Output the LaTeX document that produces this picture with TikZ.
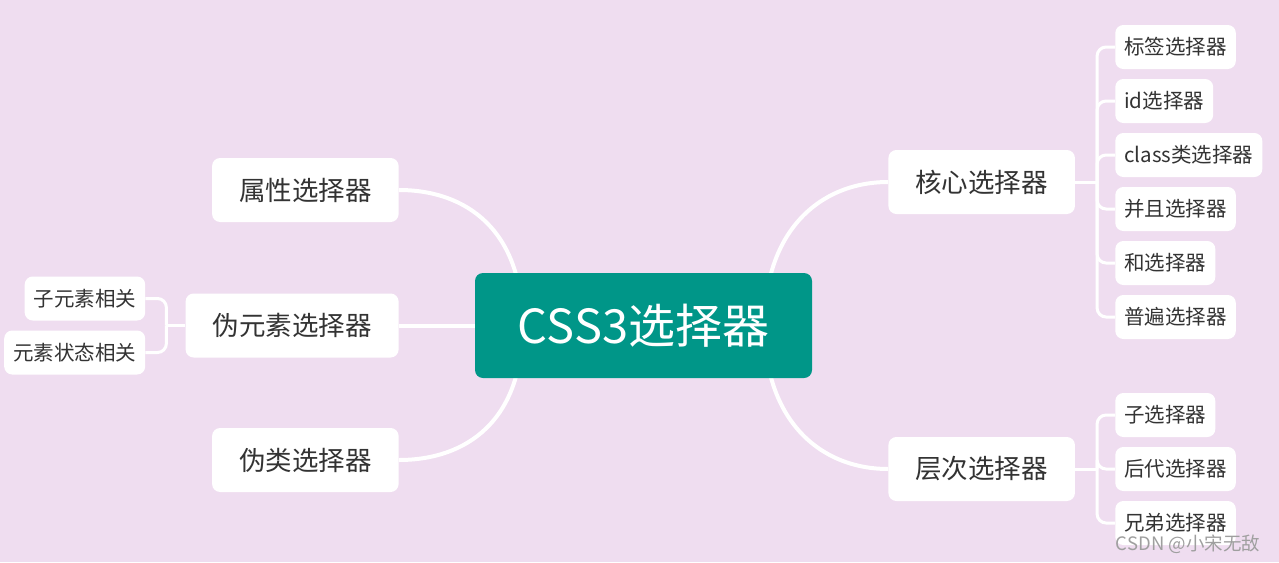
\documentclass[tikz,border=0pt]{standalone}
\usepackage{fontspec}
\setmainfont{Noto Sans CJK SC}
\usetikzlibrary{positioning,calc,backgrounds}
\definecolor{bgpurple}{HTML}{EFDDF0}
\definecolor{rootteal}{HTML}{009688}
\definecolor{textgray}{HTML}{333333}

\begin{document}
\begin{tikzpicture}[x=1pt, y=1pt,
    topic/.style={fill=white, rounded corners=8pt, text=textgray, font=\fontsize{26.5}{30}\selectfont, minimum height=64pt, inner xsep=27pt},
    leaf/.style={fill=white, rounded corners=8pt, text=textgray, font=\fontsize{20.5}{24}\selectfont, minimum height=44pt, inner xsep=9pt},
    branch/.style={draw=white, line width=4pt},
    twig/.style={draw=white, line width=3pt, rounded corners=9pt}]
\useasboundingbox (0,0) rectangle (1279,-562);

    % Central topic
\node[fill=rootteal, rounded corners=8pt, text=white, minimum width=337pt, minimum height=105pt, font=\fontsize{47}{52}\selectfont] (root) at (643.5,-325.5) {CSS3选择器};

    % Main topics, left side
\node[topic, left=76pt of root] (pse) {伪元素选择器};
\node[topic, above=135.5pt of pse.east, anchor=east] (attr) {属性选择器};
\node[topic, below=134.5pt of pse.east, anchor=east] (pcls) {伪类选择器};

    % Main topics, right side
\node[topic, above right=143.5pt and 76pt of root.east, anchor=west] (core) {核心选择器};
\node[topic, below right=143.5pt and 76pt of root.east, anchor=west] (lvl) {层次选择器};

    % Branches from the centre
\coordinate (rootL) at ($(root.center)+(-121,0)$);
\coordinate (rootR) at ($(root.center)+(121,0)$);
\begin{scope}[on background layer]
    \fill[bgpurple] (0,0) rectangle (1279,-562);
    \draw[branch] (rootR) .. controls +(0,95) and +(-68,0) .. (core.west);
    \draw[branch] (rootR) .. controls +(0,-95) and +(-68,0) .. (lvl.west);
    \draw[branch] (rootL) .. controls +(0,95) and +(68,0) .. (attr.east);
    \draw[branch] (rootL) .. controls +(0,-95) and +(68,0) .. (pcls.east);
    \draw[branch] (pse.east) -- (root.west);
\end{scope}

    % Sub topics of the core selectors
\coordinate[right=22pt of core.east] (coreJ);
\draw[twig] (core.east) -- (coreJ);
\foreach \txt [count=\i] in {标签选择器, id选择器, class类选择器, 并且选择器, 和选择器, 普遍选择器} {
    \node[leaf, anchor=west] (core-\i) at ($(core.east)+(40,189-54*\i)$) {\txt};
    \draw[twig] (coreJ) |- (core-\i.west);
}

    % Sub topics of the level selectors
\coordinate[right=22pt of lvl.east] (lvlJ);
\draw[twig] (lvl.east) -- (lvlJ);
\foreach \txt [count=\i] in {子选择器, 后代选择器, 兄弟选择器} {
    \node[leaf, anchor=west] (lvl-\i) at ($(lvl.east)+(40,108-54*\i)$) {\txt};
    \draw[twig] (lvlJ) |- (lvl-\i.west);
}

    % Sub topics of the pseudo element selectors
\coordinate[left=19pt of pse.west] (pseJ);
\draw[twig] (pse.west) -- (pseJ);
\foreach \txt [count=\i] in {子元素相关, 元素状态相关} {
    \node[leaf, anchor=east] (pse-\i) at ($(pse.west)+(-40,81-54*\i)$) {\txt};
    \draw[twig] (pseJ) |- (pse-\i.east);
}

    % Watermark
\node[text=gray!75, font=\fontsize{18.5}{22}\selectfont] (mark) at (1188,-544) {CSDN @小宋无敌};
\end{tikzpicture}
\end{document}
